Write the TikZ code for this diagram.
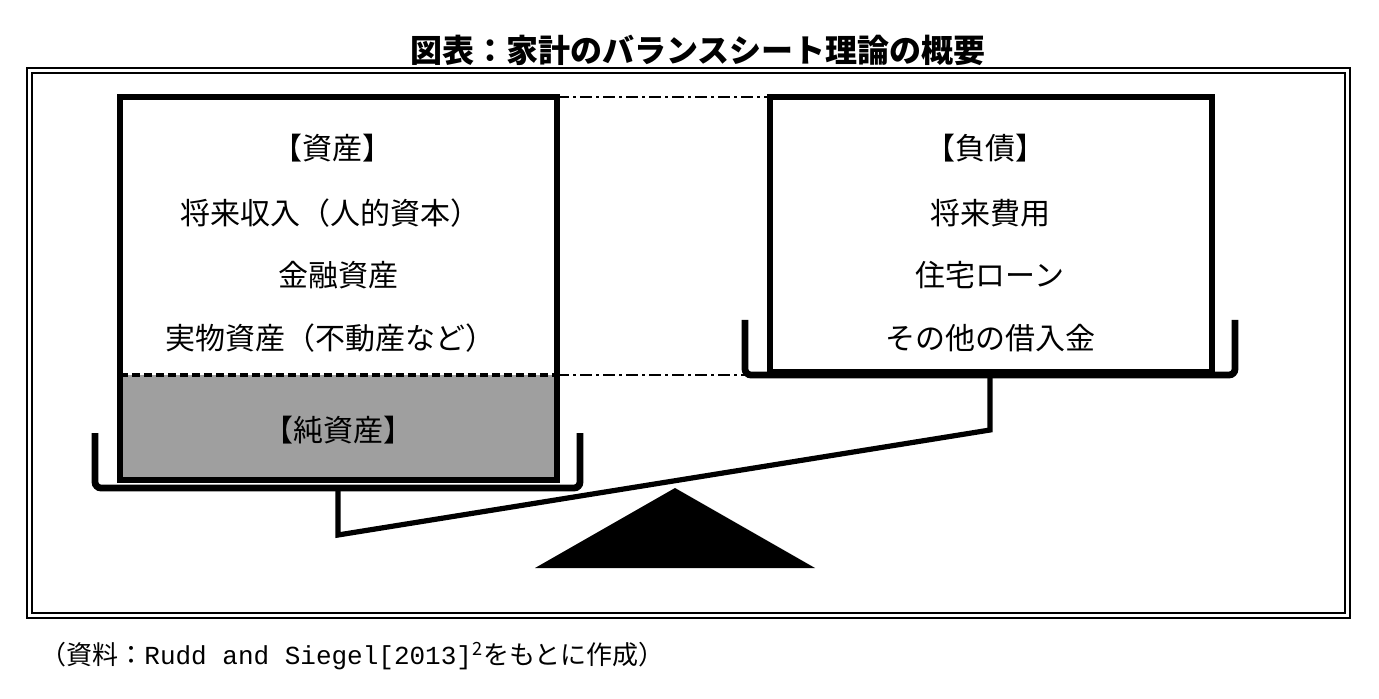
\documentclass[tikz,border=0pt]{standalone}
\usepackage{fontspec}
\newfontfamily\cjk{Noto Sans CJK JP}
\newfontfamily\monof{Liberation Mono}
\begin{document}
\begin{tikzpicture}[x=0.5pt,y=-0.5pt,
  thick line/.style={line width=2.6pt},
  lbl/.style={font=\cjk\fontsize{15}{17}\selectfont, inner sep=0pt},
  dd/.style={line width=1pt, dash pattern=on 6pt off 2pt on 1.5pt off 2pt}]
\useasboundingbox (0,0) rectangle (1379,699);
\node[font=\cjk\bfseries\fontsize{16}{18}\selectfont] (title) at (698,50) {図表：家計のバランスシート理論の概要};
\draw[line width=0.6pt] (27,68) rectangle (1350,618);
\draw[line width=0.6pt] (32,73) rectangle (1345,613);
% left box
\fill[gray!75] (120,375) rectangle (557,480);
\draw[thick line] (120,97) rectangle (557,480);
\draw[line width=1.6pt, dash pattern=on 4pt off 2pt] (120,375) -- (557,375);
% right box
\draw[thick line] (770,97) rectangle (1212,372);
% connecting dash dot
\draw[dd] (557,97) -- (770,97);
\draw[dd] (557,375) -- (745,375);
% pans
\draw[line width=3.4pt, rounded corners=3pt] (95,433) -- (95,488) -- (580,488) -- (580,433);
\draw[line width=3.4pt, rounded corners=3pt] (745,320) -- (745,375) -- (1235,375) -- (1235,320);
% beam
\coordinate (bl) at (338,535);
\coordinate (br) at (990,430);
\draw[thick line] (338,490) -- (bl) -- (br) -- (990,375);
% fulcrum
\fill (535,568) -- (815,568) -- (675,488) -- cycle;
% texts
\node[lbl] (a0) at (332,148) {【資産】};
\node[lbl] (a1) at (330,213) {将来収入（人的資本）};
\node[lbl] (a2) at (338,275) {金融資産};
\node[lbl] (a3) at (330,338) {実物資産（不動産など）};
\node[lbl] (a4) at (338,430) {【純資産】};
\node[lbl] (b0) at (985,148) {【負債】};
\node[lbl] (b1) at (990,213) {将来費用};
\node[lbl] (b2) at (990,275) {住宅ローン};
\node[lbl] (b3) at (990,338) {その他の借入金};
\node[font=\cjk\fontsize{13}{15}\selectfont, anchor=west, inner sep=0pt] (cap) at (40,656) {（資料：{\monof Rudd and Siegel[2013]}\textsuperscript{2}をもとに作成）};
\end{tikzpicture}
\end{document}
